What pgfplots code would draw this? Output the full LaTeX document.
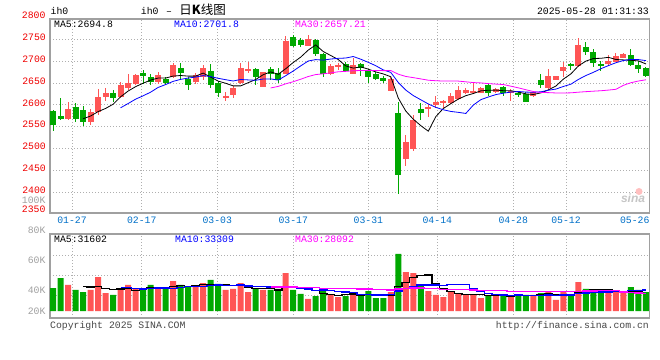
\documentclass[border=0pt]{standalone}
\usepackage{fontspec}
\usepackage{pgfplots}
\pgfplotsset{compat=1.18}
\usepackage{pgfplotstable}
\setmainfont{Liberation Mono}
\newfontfamily\cjk{Noto Sans CJK SC}
\newfontfamily\sinafont{Liberation Sans}
\definecolor{cRed}{RGB}{255,85,85}
\definecolor{cGreen}{RGB}{0,168,0}
\definecolor{tickred}{RGB}{240,0,0}
\definecolor{tickblue}{RGB}{0,112,200}
\definecolor{borderc}{RGB}{160,160,160}
\definecolor{gridc}{RGB}{175,175,175}
\definecolor{labgray}{RGB}{160,160,160}
\definecolor{darkt}{RGB}{70,70,70}
\definecolor{ma10}{RGB}{0,0,255}
\definecolor{ma30}{RGB}{255,0,255}

\pgfplotstableread{
i o h l c
2 2567.7 2606.6 2565.4 2590.6
5 2560.9 2590.6 2554.0 2583.7
6 2583.7 2636.4 2576.9 2618.1
7 2618.1 2638.6 2608.9 2627.2
9 2618.1 2652.4 2615.8 2645.5
10 2638.6 2670.7 2634.1 2650.1
11 2647.8 2670.7 2645.5 2668.4
14 2652.4 2675.2 2647.8 2668.4
16 2663.8 2695.8 2661.5 2691.2
19 2652.4 2673.0 2647.8 2668.4
20 2663.8 2691.2 2656.9 2684.4
23 2615.8 2629.5 2608.9 2620.3
24 2622.6 2643.2 2615.8 2638.6
25 2650.1 2695.8 2647.8 2684.4
26 2677.5 2698.1 2673.0 2682.1
28 2640.9 2675.2 2640.9 2675.2
31 2670.7 2757.6 2670.7 2746.1
34 2734.7 2759.9 2734.7 2750.7
37 2670.7 2693.5 2668.4 2689.0
38 2686.7 2695.8 2679.8 2691.2
40 2670.7 2707.3 2670.7 2691.2
45 2631.8 2663.8 2631.8 2659.2
47 2476.2 2531.1 2460.2 2515.1
48 2499.1 2576.9 2494.5 2565.4
50 2590.6 2602.0 2572.3 2595.2
51 2599.8 2620.3 2592.9 2606.6
52 2604.3 2611.2 2592.9 2608.9
53 2604.3 2627.2 2602.0 2620.3
54 2613.5 2643.2 2611.2 2634.1
55 2627.2 2638.6 2624.9 2634.1
56 2627.2 2652.4 2624.9 2631.8
57 2627.2 2640.9 2627.2 2638.6
59 2629.5 2638.6 2627.2 2636.4
61 2627.2 2636.4 2608.9 2631.8
64 2620.3 2631.8 2618.1 2629.5
66 2638.6 2682.1 2636.4 2666.1
67 2656.9 2666.1 2656.9 2666.1
68 2677.5 2698.1 2663.8 2686.7
70 2689.0 2753.0 2686.7 2737.0
74 2693.5 2714.1 2691.2 2700.4
75 2698.1 2718.7 2698.1 2711.8
76 2707.3 2718.7 2707.3 2716.4
}\redc

\pgfplotstableread{
i o h l c
0 2586.0 2587.0 2541.0 2552.5
1 2574.6 2615.8 2565.4 2567.7
3 2595.2 2604.3 2560.9 2567.7
4 2588.3 2597.5 2551.7 2560.9
8 2627.2 2634.1 2606.6 2615.8
12 2673.0 2679.8 2647.8 2666.1
13 2663.8 2670.7 2645.5 2652.4
15 2659.2 2663.8 2645.5 2650.1
17 2684.4 2695.8 2659.2 2673.0
18 2659.2 2663.8 2634.1 2645.5
21 2677.5 2693.5 2638.6 2645.5
22 2650.1 2654.6 2618.1 2627.2
27 2682.1 2684.4 2645.5 2663.8
29 2682.1 2686.7 2656.9 2670.7
30 2673.0 2684.4 2650.1 2656.9
32 2755.3 2759.9 2732.4 2734.7
33 2748.4 2753.0 2732.4 2737.0
35 2748.4 2750.7 2711.8 2716.4
36 2716.4 2718.7 2663.8 2670.7
39 2693.5 2698.1 2675.2 2677.5
41 2693.5 2695.8 2666.1 2684.4
42 2677.5 2682.1 2650.1 2663.8
43 2670.7 2675.2 2656.9 2659.2
44 2661.5 2666.1 2650.1 2654.6
46 2581.5 2606.6 2396.2 2439.7
49 2590.6 2604.3 2565.4 2581.5
58 2645.5 2650.1 2620.3 2627.2
60 2640.9 2643.2 2620.3 2627.2
62 2627.2 2631.8 2618.1 2622.6
63 2624.9 2629.5 2606.6 2606.6
65 2656.9 2670.7 2638.6 2645.5
69 2693.5 2695.8 2679.8 2689.0
71 2732.4 2743.9 2714.1 2721.0
72 2721.0 2727.8 2686.7 2695.8
73 2693.5 2700.4 2677.5 2689.0
77 2714.1 2727.8 2689.0 2691.2
78 2691.2 2700.4 2673.0 2682.1
79 2684.4 2686.7 2663.8 2666.1
}\greenc

\pgfplotstableread{
i v
2 41.1
5 33.2
6 53.7
7 28.4
9 33.2
10 41.1
11 34.8
14 34.8
16 47.4
19 37.9
20 44.2
23 33.2
24 34.8
25 44.2
26 30.0
28 33.2
31 60.0
34 19.0
37 25.3
38 22.1
40 30.0
45 30.0
47 61.6
48 60.0
50 31.6
51 25.3
52 22.1
53 31.6
54 28.4
55 25.3
56 25.3
57 20.5
59 25.3
61 22.1
64 25.3
66 30.0
67 17.4
68 30.0
70 45.8
74 28.4
75 30.0
76 28.4
}\redv

\pgfplotstableread{
i v
0 36.3
1 52.1
3 33.2
4 30.0
8 25.3
12 36.3
13 41.1
15 34.8
17 41.1
18 37.9
21 49.0
22 42.7
27 34.8
29 33.2
30 34.8
32 33.2
33 26.9
35 23.7
36 33.2
39 23.7
41 23.7
42 31.6
43 20.5
44 20.5
46 90.1
49 41.1
58 23.7
60 25.3
62 25.3
63 25.3
65 28.4
69 23.7
71 34.8
72 33.2
73 30.0
77 37.9
78 33.2
79 30.0
}\greenv

\pgfplotsset{
  wick/.style={draw=none, mark=none, forget plot,
    error bars/.cd, y dir=plus, y explicit, error mark=none,
    error bar style={draw=#1, line width=1bp}},
  body/.style={draw=none, mark=none, forget plot,
    error bars/.cd, y dir=plus, y explicit, error mark=none,
    error bar style={draw=#1, line width=6bp, line cap=butt}},
}

\begin{document}
\fontsize{9.8bp}{11bp}\selectfont
\begin{tikzpicture}
\useasboundingbox[fill=white] (0bp,0bp) rectangle (660bp,360bp);

% ---------- price panel ----------
\begin{axis}[
  at={(50bp,147bp)}, anchor=south west,
  width=599.5bp, height=194bp, scale only axis,
  xmin=-0.4, xmax=79.47, ymin=2352.1, ymax=2796.4,
  axis line style={draw=borderc, line width=1.2bp},
  major tick length=0pt,
  ytick={2400,2450,2500,2550,2600,2650,2700,2750},
  yticklabels={2400,2450,2500,2550,2600,2650,2700,2750},
  xtick={2.53,11.82,21.89,32.01,42.01,51.20,61.32,68.35},
  xticklabels={01-27,02-17,03-03,03-17,03-31,04-14,04-28,05-12},
  extra x ticks={77.5},
  extra x tick labels={05-26},
  extra x tick style={grid=none},
  grid=major,
  grid style={draw=gridc, line width=0.8bp, dash pattern=on 1bp off 2bp},
  yticklabel style={text=tickred, anchor=base east, inner sep=0pt, xshift=-4bp, yshift=-1.4bp},
  xticklabel style={text=tickblue, anchor=base, inner sep=0pt, yshift=-10.7bp},
  /pgf/number format/assume math mode=true,
]
% wicks
\addplot[wick=cRed] table[x=i, y=l, y error plus expr=\thisrow{h}-\thisrow{l}] {\redc};
\addplot[wick=cGreen] table[x=i, y=l, y error plus expr=\thisrow{h}-\thisrow{l}] {\greenc};
% bodies
\addplot[body=cRed] table[x=i, y=o, y error plus expr=\thisrow{c}-\thisrow{o}] {\redc};
\addplot[body=cGreen] table[x=i, y=c, y error plus expr=\thisrow{o}-\thisrow{c}] {\greenc};
% MA5
\addplot[black, line width=0.8bp, mark=none] coordinates {
(4,2567.9)(5,2574.1)(6,2584.2)(7,2591.5)(8,2601.1)(9,2618.1)(10,2631.3)(11,2641.4)(12,2649.2)(13,2656.5)
(14,2661.1)(15,2661.1)(16,2665.6)(17,2667.0)(18,2665.6)(19,2665.6)(20,2672.5)(21,2663.4)(22,2654.2)(23,2649.2)
(24,2643.2)(25,2643.2)(26,2650.5)(27,2657.8)(28,2668.8)(29,2675.2)(30,2669.7)(31,2682.5)(32,2696.7)(33,2709.1)
(34,2725.1)(35,2737.0)(36,2721.9)(37,2712.8)(38,2703.6)(39,2689.0)(40,2683.9)(41,2686.7)(42,2681.6)(43,2675.2)
(44,2670.6)(45,2664.2)(46,2615.3)(47,2585.6)(48,2566.8)(49,2552.2)(50,2539.4)(51,2572.8)(52,2591.5)(53,2602.5)
(54,2613.0)(55,2620.8)(56,2625.8)(57,2631.8)(58,2633.2)(59,2633.6)(60,2632.2)(61,2632.2)(62,2629.0)(63,2624.9)
(64,2623.5)(65,2627.2)(66,2634.1)(67,2642.8)(68,2658.8)(69,2670.7)(70,2689.0)(71,2700.0)(72,2705.9)(73,2706.4)
(74,2708.6)(75,2703.6)(76,2702.7)(77,2701.8)(78,2700.4)(79,2693.5)};
% MA10
\addplot[ma10, line width=0.8bp, mark=none] coordinates {
(9,2593.0)(10,2602.7)(11,2612.8)(12,2620.4)(13,2628.8)(14,2639.6)(15,2646.2)(16,2653.5)(17,2658.1)(18,2661.1)
(19,2663.4)(20,2666.8)(21,2664.5)(22,2660.6)(23,2657.4)(24,2654.4)(25,2657.9)(26,2656.9)(27,2656.0)(28,2659.0)
(29,2659.2)(30,2656.5)(31,2666.5)(32,2677.3)(33,2689.0)(34,2700.2)(35,2703.4)(36,2702.2)(37,2704.7)(38,2706.3)
(39,2707.0)(40,2710.5)(41,2704.3)(42,2697.2)(43,2689.4)(44,2679.8)(45,2674.1)(46,2651.0)(47,2633.6)(48,2621.0)
(49,2611.4)(50,2601.8)(51,2594.0)(52,2588.5)(53,2584.7)(54,2582.6)(55,2580.1)(56,2599.3)(57,2611.7)(58,2617.8)
(59,2623.3)(60,2626.5)(61,2629.0)(62,2630.4)(63,2629.0)(64,2628.6)(65,2629.7)(66,2633.2)(67,2635.9)(68,2641.9)
(69,2647.1)(70,2658.1)(71,2667.0)(72,2674.3)(73,2682.6)(74,2689.7)(75,2696.3)(76,2701.3)(77,2703.8)(78,2703.4)
(79,2701.1)};
% MA30
\addplot[ma30, line width=0.8bp, mark=none] coordinates {
(29,2638.5)(30,2642.0)(31,2647.9)(32,2652.7)(33,2658.4)(34,2664.7)(35,2669.1)(36,2670.9)(37,2673.0)(38,2675.5)
(39,2676.5)(40,2677.9)(41,2678.4)(42,2678.4)(43,2678.6)(44,2678.1)(45,2678.4)(46,2670.0)(47,2664.8)(48,2662.1)
(49,2659.2)(50,2656.2)(51,2655.0)(52,2654.3)(53,2654.3)(54,2654.2)(55,2652.5)(56,2650.8)(57,2650.0)(58,2648.4)
(59,2647.3)(60,2646.3)(61,2642.5)(62,2638.7)(63,2634.4)(64,2630.3)(65,2628.0)(66,2627.8)(67,2627.0)(68,2626.9)
(69,2627.3)(70,2628.8)(71,2630.0)(72,2631.1)(73,2632.1)(74,2633.6)(75,2635.4)(76,2644.6)(77,2650.5)(78,2654.4)
(79,2657.2)};
\end{axis}

% ---------- volume panel ----------
\begin{axis}[
  at={(50bp,42bp)}, anchor=south west,
  width=599.5bp, height=84bp, scale only axis,
  xmin=-0.4, xmax=79.47, ymin=-11.06, ymax=121.7,
  axis line style={draw=borderc, line width=1.2bp},
  major tick length=0pt,
  ytick={24.8,56.4,87.4}, yticklabels={},
  xtick={2.53,11.82,21.89,32.01,42.01,51.20,61.32,68.35}, xticklabels={},
  grid=major,
  grid style={draw=gridc, line width=0.8bp, dash pattern=on 1bp off 2bp},
]
\addplot[ybar, bar width=0.8, bar shift=0pt, fill=cRed, draw=none] table[x=i, y=v] {\redv};
\addplot[ybar, bar width=0.8, bar shift=0pt, fill=cGreen, draw=none] table[x=i, y=v] {\greenv};
% volume MA5
\addplot[black, line width=1.3bp, const plot mark mid, mark=none] coordinates {
(4,38.5)(5,37.9)(6,38.2)(7,35.7)(8,34.1)(9,34.8)(10,36.3)(11,32.6)(12,34.1)(13,37.3)(14,37.6)(15,36.4)
(16,38.9)(17,39.8)(18,39.2)(19,39.8)(20,41.7)(21,42.0)(22,42.3)(23,41.4)(24,40.8)(25,40.8)(26,37.0)(27,35.4)
(28,35.4)(29,35.1)(30,33.2)(31,39.2)(32,38.9)(33,37.6)(34,34.8)(35,32.6)(36,27.2)(37,25.6)(38,24.7)(39,25.6)
(40,26.9)(41,25.0)(42,26.2)(43,25.9)(44,25.3)(45,25.3)(46,38.5)(47,44.5)(48,52.4)(49,56.6)(50,56.9)(51,43.9)
(52,36.0)(53,30.3)(54,27.8)(55,26.5)(56,26.5)(57,26.2)(58,24.6)(59,24.0)(60,24.0)(61,23.4)(62,24.3)(63,24.7)
(64,24.7)(65,25.3)(66,26.9)(67,25.3)(68,26.2)(69,25.9)(70,29.4)(71,30.3)(72,33.5)(73,33.5)(74,34.4)(75,31.3)
(76,30.0)(77,30.9)(78,31.6)(79,31.9)};
% volume MA10
\addplot[ma10, line width=1.3bp, const plot mark mid, mark=none] coordinates {
(9,36.7)(10,37.1)(11,35.4)(12,34.9)(13,35.7)(14,36.2)(15,36.4)(16,35.7)(17,37.0)(18,38.3)(19,38.7)(20,39.0)
(21,40.5)(22,41.1)(23,40.3)(24,40.3)(25,41.2)(26,39.5)(27,38.9)(28,38.4)(29,37.9)(30,37.0)(31,38.1)(32,37.1)
(33,36.5)(34,34.9)(35,32.9)(36,33.2)(37,32.3)(38,31.1)(39,30.2)(40,29.7)(41,26.1)(42,25.9)(43,25.3)(44,25.4)
(45,26.1)(46,31.8)(47,35.4)(48,39.2)(49,40.9)(50,41.1)(51,41.2)(52,40.3)(53,41.4)(54,42.2)(55,41.7)(56,35.2)
(57,31.1)(58,27.5)(59,25.9)(60,25.3)(61,25.0)(62,25.3)(63,24.7)(64,24.3)(65,24.7)(66,25.1)(67,24.8)(68,25.4)
(69,25.3)(70,27.3)(71,28.6)(72,29.4)(73,29.9)(74,30.2)(75,30.3)(76,30.2)(77,32.2)(78,32.5)(79,33.2)};
% volume MA30
\addplot[ma30, line width=1.3bp, const plot mark mid, mark=none] coordinates {
(29,37.8)(30,37.7)(31,38.0)(32,37.7)(33,37.5)(34,37.1)(35,36.8)(36,36.1)(37,36.0)(38,35.9)(39,35.6)(40,35.2)
(41,34.9)(42,34.7)(43,34.0)(44,33.6)(45,33.4)(46,34.8)(47,35.5)(48,36.2)(49,36.3)(50,35.9)(51,35.1)(52,34.4)
(53,34.4)(54,34.2)(55,33.6)(56,33.4)(57,32.9)(58,32.6)(59,32.3)(60,32.0)(61,30.8)(62,30.5)(63,30.4)(64,30.7)
(65,30.8)(66,30.7)(67,30.4)(68,30.7)(69,30.7)(70,31.2)(71,31.6)(72,31.7)(73,32.0)(74,32.2)(75,32.2)(76,30.2)
(77,29.4)(78,28.5)(79,28.1)};
\end{axis}

% ---------- texts ----------
\node[anchor=base west, inner sep=0pt] at (50.5bp,345bp) {ih0};
\node[anchor=base west, inner sep=0pt] at (140.7bp,345bp) {ih0 \,–\, {\cjk\fontsize{12.5bp}{13bp}\selectfont 日\textbf{K}线图}};
\node[anchor=base east, inner sep=0pt] at (649bp,345bp) {2025-05-28 01:31:33};
\node[anchor=base east, inner sep=0pt, text=tickred] at (45.7bp,341bp) {2800};
\node[anchor=base east, inner sep=0pt, text=tickred] at (45.7bp,147.5bp) {2350};
\node[anchor=base east, inner sep=0pt, text=labgray] at (45.7bp,156.7bp) {100K};
\node[anchor=base west, inner sep=0pt] at (54bp,332.7bp) {MA5:2694.8};
\node[anchor=base west, inner sep=0pt, text=ma10] at (174bp,332.7bp) {MA10:2701.8};
\node[anchor=base west, inner sep=0pt, text=ma30] at (295bp,332.7bp) {MA30:2657.21};
\node[anchor=base west, inner sep=0pt] at (54bp,117.7bp) {MA5:31602};
\node[anchor=base west, inner sep=0pt, text=ma10] at (175bp,117.7bp) {MA10:33309};
\node[anchor=base west, inner sep=0pt, text=ma30] at (295bp,117.7bp) {MA30:28092};
\node[anchor=base east, inner sep=0pt, text=labgray] at (45.7bp,126.7bp) {80K};
\node[anchor=base east, inner sep=0pt, text=labgray] at (45.7bp,96.7bp) {60K};
\node[anchor=base east, inner sep=0pt, text=labgray] at (45.7bp,66bp) {40K};
\node[anchor=base east, inner sep=0pt, text=labgray] at (45.7bp,45.7bp) {20K};
\node[anchor=base west, inner sep=0pt, text=darkt] at (50bp,32bp) {Copyright 2025 SINA.COM};
\node[anchor=base east, inner sep=0pt, text=darkt] at (649bp,32bp) {http://finance.sina.com.cn};
\node[anchor=base, inner sep=0pt, text=gray!45, font=\sinafont\bfseries\itshape\fontsize{12bp}{12bp}\selectfont] at (633bp,157bp) {sina};
\fill[red!25] (639bp,168.5bp) circle (3.5bp);
\end{tikzpicture}
\end{document}
